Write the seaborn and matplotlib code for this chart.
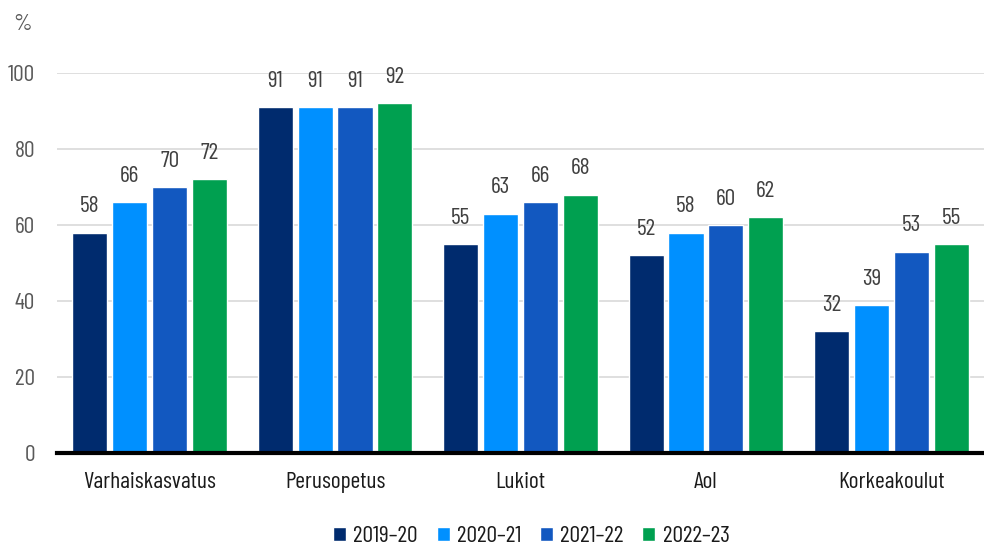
import matplotlib
matplotlib.use("Agg")
import matplotlib.pyplot as plt
import seaborn as sns
import pandas as pd
from matplotlib.patches import Patch

categories = ["Varhaiskasvatus", "Perusopetus", "Lukiot", "Aol", "Korkeakoulut"]
years = ["2019–20", "2020–21", "2021–22", "2022–23"]
v_2019 = [58, 91, 55, 52, 32]
v_2020 = [66, 91, 63, 58, 39]
v_2021 = [70, 91, 66, 60, 53]
v_2022 = [72, 92, 68, 62, 55]
y_ticks = [0, 20, 40, 60, 80, 100]

colors = ["#002b6e", "#0090ff", "#1258c0", "#00a050"]

rows = []
for yr, vals in zip(years, [v_2019, v_2020, v_2021, v_2022]):
    for c, v in zip(categories, vals):
        rows.append({"kategoria": c, "vuosi": yr, "osuus": v})
df = pd.DataFrame(rows)

sns.set_theme(style="white")
plt.rcParams["font.family"] = ["Barlow Condensed", "DejaVu Sans"]

fig = plt.figure(figsize=(9.84, 5.46), dpi=100)
ax = fig.add_axes([57 / 984, 93 / 546, 1 - 57 / 984, 380 / 546])

sns.barplot(data=df, x="kategoria", y="osuus", hue="vuosi", order=categories,
            hue_order=years, palette=colors, width=0.86, gap=0.12,
            saturation=1, ax=ax, legend=False, errorbar=None)

for cont in ax.containers:
    ax.bar_label(cont, labels=[f"{int(b.get_height())}" for b in cont],
                 padding=11, fontsize=17, color="#404040", clip_on=False)

ax.set_xlim(-0.5, 4.5)
ax.set_ylim(0, 100)
ax.set_yticks(y_ticks)
ax.yaxis.grid(True, color="#d9d9d9", linewidth=1.2)
ax.set_axisbelow(True)
for s in ["top", "right", "left"]:
    ax.spines[s].set_visible(False)
ax.spines["bottom"].set_color("black")
ax.spines["bottom"].set_linewidth(3)
ax.tick_params(axis="both", length=0)
ax.tick_params(axis="y", labelsize=17, labelcolor="#595959", pad=16)
ax.tick_params(axis="x", labelsize=17, labelcolor="#1a1a1a", pad=14)
ax.set_xlabel("")
ax.set_ylabel("")

fig.text(22 / 984, 1 - 25 / 546, "%", fontsize=17, color="#595959",
         ha="center", va="center")

handles = [Patch(facecolor=c, label=y) for c, y in zip(colors, years)]
fig.legend(handles=handles, loc="center", bbox_to_anchor=(0.540, 1 - 537 / 546),
           ncol=4, frameon=False, fontsize=17, labelcolor="#1a1a1a",
           handlelength=0.55, handleheight=0.55, handletextpad=0.3,
           columnspacing=0.8)

fig.savefig("out.png", dpi=100)
